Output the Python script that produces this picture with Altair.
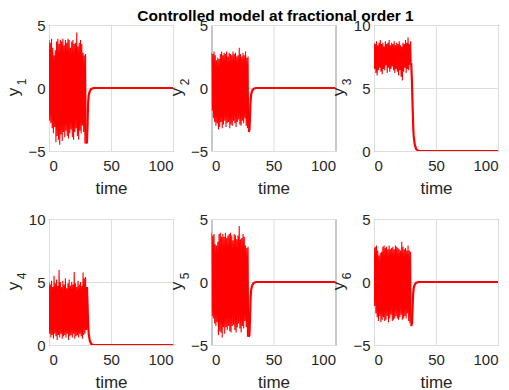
import altair as alt
import numpy as np
import pandas as pd

FONT = "Liberation Sans"
TITLE = "Controlled model at fractional order 1"
time_ticks = [0, 50, 100]
t_switch = 30.0

# upper and lower extremes of the chaotic oscillation (t = 0 .. 30)
y1_highs = [3.8, 3.6, 3.9, 3.2, 2.6, 3.0, 3.7, 3.9, 3.5, 3.8, 3.7, 3.9, 3.4, 3.8, 3.6,
            3.9, 3.8, 3.2, 3.7, 3.8, 3.5, 3.6, 4.4, 3.3, 3.6, 3.8, 3.5, 2.8, 2.6, 2.7]
y1_lows = [-2.6, -2.8, -3.2, -3.6, -3.1, -4.3, -3.8, -4.1, -4.5, -3.7, -4.2, -3.5, -3.9, -3.4, -3.8,
           -4.0, -3.6, -3.3, -3.9, -4.1, -3.5, -3.2, -3.8, -4.1, -3.4, -3.6, -3.0, -3.5, -4.4, -4.4]
y2_highs = [2.8, 2.7, 2.9, 2.6, 2.2, 2.4, 2.3, 2.7, 2.9, 2.6, 2.8, 2.7, 2.9, 2.5, 2.8,
            2.7, 2.6, 2.9, 2.7, 2.8, 2.5, 2.6, 3.2, 2.7, 2.5, 2.8, 2.6, 2.9, 2.4, 2.5]
y2_lows = [-1.8, -2.4, -2.7, -3.0, -2.8, -3.3, -3.1, -2.7, -3.2, -2.9, -2.6, -3.1, -2.8, -2.7, -3.2,
           -2.9, -3.0, -2.6, -2.8, -3.1, -2.7, -2.5, -2.9, -3.0, -2.6, -2.8, -2.4, -3.0, -3.2, -3.5]
y3_highs = [8.6, 8.5, 8.7, 8.4, 8.6, 8.8, 8.5, 8.6, 8.3, 8.7, 8.5, 8.6, 8.8, 8.4, 8.6,
            8.5, 8.7, 8.4, 8.6, 8.5, 8.7, 8.4, 8.3, 8.6, 8.5, 8.8, 8.6, 9.0, 8.5, 8.7]
y3_lows = [6.5, 6.2, 6.0, 6.4, 6.6, 6.3, 6.1, 6.5, 6.4, 6.8, 6.2, 6.6, 6.3, 6.5, 6.7,
           6.4, 6.2, 6.5, 6.3, 6.0, 6.4, 5.9, 5.6, 6.3, 6.6, 6.2, 6.5, 6.4, 6.8, 7.0]
y4_highs = [5.0, 4.8, 5.1, 4.6, 5.5, 4.9, 5.2, 4.7, 5.95, 5.0, 4.6, 5.1, 4.8, 5.3, 4.5,
            4.9, 5.2, 4.7, 5.0, 4.8, 5.8, 4.9, 4.6, 5.1, 4.8, 5.0, 4.7, 5.75, 5.3, 5.4]
y4_lows = [0.9, 0.6, 0.8, 0.5, 0.9, 0.7, 0.4, 0.8, 0.6, 0.9, 0.5, 0.7, 0.8, 0.6, 0.9,
           0.4, 0.7, 0.8, 0.6, 0.9, 0.5, 0.7, 0.8, 0.6, 0.9, 0.7, 0.5, 0.8, 0.9, 1.2]
y5_highs = [3.9, 3.7, 3.8, 3.0, 2.9, 3.2, 3.8, 3.9, 3.6, 3.8, 3.6, 3.9, 3.5, 3.7, 3.8,
            3.9, 3.7, 3.3, 3.8, 3.7, 3.4, 3.7, 4.45, 3.4, 3.5, 3.8, 3.6, 2.9, 2.7, 2.8]
y5_lows = [-2.7, -2.9, -3.3, -3.5, -3.2, -4.2, -3.9, -4.0, -4.4, -3.6, -4.1, -3.6, -3.8, -3.5, -3.9,
           -4.0, -3.5, -3.4, -3.8, -4.0, -3.6, -3.3, -3.7, -4.0, -3.5, -3.7, -3.1, -3.6, -4.35, -4.35]
y6_highs = [2.7, 2.8, 2.9, 2.5, 2.1, 2.3, 2.4, 2.8, 2.9, 2.7, 2.8, 2.6, 2.9, 2.6, 2.7,
            2.8, 2.6, 2.9, 2.8, 2.7, 2.6, 2.5, 3.2, 2.8, 2.6, 2.7, 2.5, 2.9, 2.5, 2.4]
y6_lows = [-1.9, -2.5, -2.8, -3.1, -2.7, -3.2, -3.0, -2.8, -3.1, -3.0, -2.7, -3.2, -2.9, -2.6, -3.1,
           -3.0, -2.9, -2.7, -2.9, -3.0, -2.8, -2.6, -3.0, -2.9, -2.7, -2.9, -2.5, -3.1, -3.3, -3.5]

# controlled response after t = 30
ctrl_t = [30.6, 31.0, 31.3, 31.6, 32.0, 32.9, 34.0, 36.0, 40.0, 100.0]
y1_ctrl = [-4.3, -3.2, -2.0, -1.1, -0.6, -0.25, -0.08, 0.0, 0.0, 0.0]
y2_ctrl = [-3.3, -2.4, -1.5, -0.9, -0.5, -0.2, -0.06, 0.0, 0.0, 0.0]
y3_ctrl = [5.5, 4.0, 3.0, 2.0, 1.2, 0.5, 0.15, 0.0, 0.0, 0.0]
y4_ctrl = [4.6, 3.5, 2.5, 1.8, 0.9, 0.35, 0.08, 0.0, 0.0, 0.0]
y5_ctrl = [-4.2, -3.1, -2.0, -1.1, -0.6, -0.25, -0.08, 0.0, 0.0, 0.0]
y6_ctrl = [-3.3, -2.4, -1.5, -0.9, -0.5, -0.2, -0.06, 0.0, 0.0, 0.0]

W, H = 124, 126
RED = "#ff0000"


def label(text, size, x, y, weight="normal", angle=None, color="#262626"):
    kw = dict(fontSize=size, font=FONT, baseline="alphabetic", align="center",
              color=color, fontWeight=weight)
    if angle is not None:
        kw["angle"] = angle
    return alt.Chart(pd.DataFrame({"s": [text]})).mark_text(**kw).encode(
        x=alt.value(x), y=alt.value(y), text="s:N")


def panel(highs, lows, ctrl, dom, ticks, sub, title=None):
    vals = []
    for h, l in zip(highs, lows):
        vals += [h, l]
    chaos = pd.DataFrame({"t": np.linspace(0, t_switch, len(vals)), "v": vals})
    ctrl_df = pd.DataFrame({"t": [t_switch] + ctrl_t, "v": [vals[-1]] + ctrl})
    x = alt.X("t:Q", scale=alt.Scale(domain=[0, 100], nice=False),
              axis=alt.Axis(values=time_ticks, title="time", titleY=42,
                            titleBaseline="alphabetic", labelPadding=7, format="d"))
    y = alt.Y("v:Q", scale=alt.Scale(domain=dom, nice=False, zero=False),
              axis=alt.Axis(values=ticks, title=None, labelPadding=4, format="d"))
    layers = [
        alt.Chart(chaos).mark_line(color=RED, strokeWidth=1.1, clip=True).encode(x=x, y=y),
        alt.Chart(ctrl_df).mark_line(color=RED, strokeWidth=2.2, clip=True).encode(x=x, y=y),
        label("y", 17, -30, H / 2 + 4, angle=270),
        label(sub, 12, -23, H / 2 - 6, angle=270),
    ]
    if title:
        layers.append(label(title, 15.5, W / 2 + 2, -4.5, weight="bold", color="#000000"))
    return alt.layer(*layers).properties(width=W, height=H)


p1 = panel(y1_highs, y1_lows, y1_ctrl, [-5, 5], [-5, 0, 5], "1")
p2 = panel(y2_highs, y2_lows, y2_ctrl, [-5, 5], [-5, 0, 5], "2", title=TITLE)
p3 = panel(y3_highs, y3_lows, y3_ctrl, [0, 10], [0, 5, 10], "3")
p4 = panel(y4_highs, y4_lows, y4_ctrl, [0, 10], [0, 5, 10], "4")
p5 = panel(y5_highs, y5_lows, y5_ctrl, [-5, 5], [-5, 0, 5], "5")
p6 = panel(y6_highs, y6_lows, y6_ctrl, [-5, 5], [-5, 0, 5], "6")

chart = alt.concat(
    p1, p2, p3, p4, p5, p6, columns=3,
    spacing={"row": 68, "column": 38.5}, bounds="flush",
).properties(
    padding={"left": -4, "top": 0, "right": 0, "bottom": 0}
).configure_view(
    stroke="#666666", strokeWidth=1
).configure_axis(
    domain=False, ticks=False, grid=True, gridColor="#dedede", gridWidth=1,
    labelFont=FONT, labelFontSize=15, labelColor="#262626",
    titleFont=FONT, titleFontSize=17, titleColor="#262626", titleFontWeight="normal",
)

chart.save("out.html", embed_options={"renderer": "svg", "actions": False})
